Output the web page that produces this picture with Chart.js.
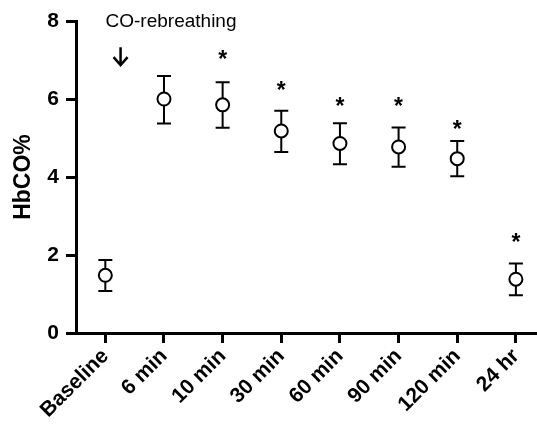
<!DOCTYPE html>
<html>
<head>
<meta charset="utf-8">
<script src="https://cdn.jsdelivr.net/npm/chart.js@4.4.1/dist/chart.umd.min.js"></script>
<style>
    html, body { margin: 0; padding: 0; background: #fff; overflow: hidden; }
    #wrap { width: 537px; height: 429px; position: relative; }
    canvas { display: block; }
</style>
</head>
<body>
<div id="wrap"><canvas id="chart"></canvas></div>
<script>
const labels = ['Baseline', '6 min', '10 min', '30 min', '60 min', '90 min', '120 min', '24 hr'];
const means = [1.48, 6.0, 5.85, 5.18, 4.86, 4.77, 4.47, 1.38];
const errUp = [1.87, 6.59, 6.43, 5.70, 5.38, 5.27, 4.92, 1.78];
const errDown = [1.08, 5.37, 5.26, 4.64, 4.33, 4.26, 4.02, 0.97];
// where the asterisks sit (null = no asterisk)
const stars = [null, null, 7.13, 6.33, 5.93, 5.93, 5.33, 2.44];
const yTicks = [0, 2, 4, 6, 8];

const font = '"Liberation Sans", Arial, sans-serif';

const extras = {
    id: 'extras',
    beforeDatasetsDraw(chart) {
        const ctx = chart.ctx;
        const x = chart.scales.x, y = chart.scales.y;
        ctx.save();
        ctx.strokeStyle = '#000';
        ctx.lineWidth = 2;
        means.forEach((m, i) => {
            const px = x.getPixelForValue(i);
            const top = y.getPixelForValue(errUp[i]);
            const bot = y.getPixelForValue(errDown[i]);
            ctx.beginPath();
            ctx.moveTo(px, top); ctx.lineTo(px, bot);
            ctx.moveTo(px - 7, top); ctx.lineTo(px + 7, top);
            ctx.moveTo(px - 7, bot); ctx.lineTo(px + 7, bot);
            ctx.stroke();
        });
        ctx.restore();
    },
    afterDraw(chart) {
        const ctx = chart.ctx;
        const x = chart.scales.x, y = chart.scales.y;
        ctx.save();
        ctx.fillStyle = '#000';
        ctx.font = 'bold 23px ' + font;
        ctx.textAlign = 'center';
        ctx.textBaseline = 'alphabetic';
        stars.forEach((s, i) => {
            if (s === null) return;
            ctx.fillText('*', x.getPixelForValue(i), y.getPixelForValue(s) + 12);
        });

        // CO-rebreathing arrow
        ctx.font = '19px ' + font;
        ctx.fillText('CO-rebreathing', x.getPixelForValue(1.12), y.getPixelForValue(7.85));
        const ax = x.getPixelForValue(0.26);
        const a1 = y.getPixelForValue(7.33), a2 = y.getPixelForValue(6.87);
        ctx.strokeStyle = '#000';
        ctx.lineWidth = 2.5;
        ctx.beginPath();
        ctx.moveTo(ax, a1); ctx.lineTo(ax, a2);
        ctx.moveTo(ax - 7, a2 - 8); ctx.lineTo(ax, a2); ctx.lineTo(ax + 7, a2 - 8);
        ctx.stroke();
        ctx.restore();
    }
};

new Chart(document.getElementById('chart'), {
    type: 'scatter',
    data: {
        datasets: [{
            data: means.map((m, i) => ({ x: i, y: m })),
            showLine: false,
            pointRadius: 6.5,
            pointHoverRadius: 6.5,
            pointBorderWidth: 2,
            backgroundColor: '#fff',
            borderColor: '#000'
        }]
    },
    options: {
        responsive: true,
        maintainAspectRatio: false,
        animation: false,
        layout: { autoPadding: false, padding: { top: 21, right: 0, left: 0, bottom: 0 } },
        plugins: { legend: { display: false }, tooltip: { enabled: false } },
        scales: {
            x: {
                type: 'linear',
                min: -0.5,
                max: 7.36,
                afterBuildTicks: scale => { scale.ticks = labels.map((l, i) => ({ value: i })); },
                afterFit: scale => {
                    scale.height = 96;
                    scale.paddingLeft = 0;
                    scale.paddingRight = 0;
                },
                ticks: {
                    autoSkip: false,
                    minRotation: 45,
                    maxRotation: 45,
                    padding: 1,
                    color: '#000',
                    font: { family: font, size: 21, weight: 'bold' },
                    callback: v => labels[v]
                },
                grid: { display: true, drawOnChartArea: false, tickLength: 10, tickWidth: 3, tickColor: '#000' },
                border: { display: true, color: '#000', width: 3 }
            },
            y: {
                min: 0,
                max: 8,
                afterBuildTicks: scale => { scale.ticks = yTicks.map(v => ({ value: v })); },
                afterFit: scale => { scale.width = 76; },
                ticks: {
                    padding: 7,
                    color: '#000',
                    font: { family: font, size: 21, weight: 'bold' }
                },
                grid: { display: true, drawOnChartArea: false, tickLength: 10, tickWidth: 3, tickColor: '#000' },
                border: { display: true, color: '#000', width: 3 },
                title: {
                    display: true,
                    text: 'HbCO%',
                    color: '#000',
                    padding: { top: 10, bottom: 0 },
                    font: { family: font, size: 23, weight: 'bold' }
                }
            }
        }
    },
    plugins: [extras]
});
</script>
</body>
</html>
